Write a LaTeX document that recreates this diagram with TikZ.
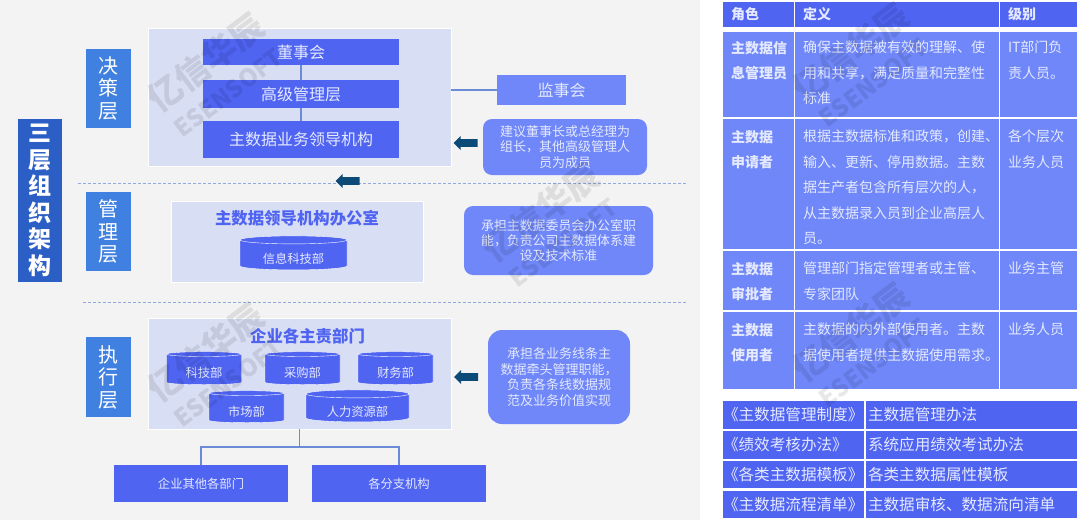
\documentclass[tikz,border=0pt]{standalone}
\usepackage{fontspec}
\setmainfont{Noto Sans CJK SC}
\usetikzlibrary{shapes}
\newcommand{\fs}[1]{\fontsize{#1}{#1}\selectfont}
\newcommand{\fsl}[2]{\fontsize{#1}{#2}\selectfont}
\definecolor{pagegray}{HTML}{F3F3F3}
\definecolor{panelblue}{HTML}{D8DEF3}
\definecolor{deepblue}{HTML}{5064F2}
\definecolor{midblue}{HTML}{6F87F8}
\definecolor{layerblue}{HTML}{4080E0}
\definecolor{titleblue}{HTML}{2C5FC6}
\definecolor{arrowblue}{HTML}{0C4A78}
\definecolor{lineblue}{HTML}{6A8CD6}
\definecolor{softwhite}{HTML}{E4E9FF}
\begin{document}
\begin{tikzpicture}[x=1pt,y=-1pt]
\tikzstyle{every node}=[inner sep=0pt,outer sep=0pt]
\tikzstyle{layerbox}=[rectangle,fill=layerblue,text=white,minimum width=45pt,minimum height=79pt,align=center,font=\fsl{20}{22.5}]
\tikzstyle{panel}=[rectangle,fill=panelblue,draw=white,line width=0.8pt]
\tikzstyle{bluebox}=[rectangle,fill=deepblue,text=softwhite,minimum width=196pt,font=\fs{16}]
\tikzstyle{lowbox}=[rectangle,fill=deepblue,text=softwhite,minimum width=174pt,minimum height=37pt,font=\fs{12.3}]
\tikzstyle{note}=[rectangle,rounded corners=9pt,fill=midblue,text=softwhite,align=center,font=\fsl{13}{15.6}]
\tikzstyle{db}=[cylinder,shape border rotate=90,aspect=0.13,draw=white,line width=0.4pt,fill=deepblue,text=softwhite,text height=17pt,text depth=1pt,font=\fs{12.3}]
\tikzstyle{leftarrow}=[single arrow,shape border rotate=180,fill=arrowblue,inner sep=3.5pt,minimum height=24pt,minimum width=14pt,single arrow head extend=3pt,single arrow head indent=0pt]
\tikzstyle{heading}=[text=deepblue,font=\bfseries\fs{16.4}]
\tikzstyle{conn}=[draw=lineblue,line width=1.2pt]
\tikzstyle{sepline}=[draw=lineblue!75,line width=0.7pt,densely dashed]
\tikzstyle{hcell}=[rectangle,anchor=north west,fill=deepblue]
\tikzstyle{rcell}=[rectangle,anchor=north west,fill=midblue]
\tikzstyle{htext}=[anchor=west,text=softwhite,font=\bfseries\fs{14}]
\tikzstyle{rolet}=[anchor=north west,align=left,text=softwhite,font=\bfseries\fsl{14}{25.5}]
\tikzstyle{bodyt}=[anchor=north west,align=left,text=softwhite,font=\fsl{14}{25.5}]
\tikzstyle{doct}=[anchor=west,text=softwhite,font=\fs{15.6}]
\tikzstyle{wmark}=[rotate=37,align=center,text=black,opacity=0.09,font=\bfseries\fsl{34}{34}]

\useasboundingbox (0,0) rectangle (1080,520);
\fill[white] (0,0) rectangle (1080,520);
\fill[pagegray] (0,0) rectangle (700,520);

\node[rectangle,fill=titleblue,text=white,minimum width=44pt,minimum height=163pt,align=center,font=\bfseries\fsl{23}{26.5}] (title) at (40,200.5) {三\\层\\组\\织\\架\\构};

% decision layer
\node[layerbox] (juece) at (108.5,88.5) {决\\策\\层};
\node[panel,minimum width=303pt,minimum height=138pt] (topPanel) at (299.5,97) {};
\node[bluebox,minimum height=26pt] (board) at (301,52) {董事会};
\node[bluebox,minimum height=28pt] (senior) at (301,94) {高级管理层};
\node[bluebox,minimum height=37pt] (lead) at (301,139.5) {主数据业务领导机构};
\draw[conn] (board) -- (senior);
\draw[conn] (senior) -- (lead);
\node[rectangle,fill=midblue,text=softwhite,minimum width=129pt,minimum height=30pt,font=\fs{16}] (supervise) at (561.5,90) {监事会};
\draw[conn] (topPanel.east |- supervise.west) -- (supervise.west);
\node[note,minimum width=164pt,minimum height=56pt] (noteA) at (565,147) {建议董事长或总经理为\\组长，其他高级管理人\\员为成员};
\node[leftarrow] (arrowA) at (467.5,143) {};

% first separator
\coordinate (sepAl) at (78,183);
\coordinate (sepAr) at (688,183);
\draw[sepline] (sepAl) -- (sepAr);
\node[leftarrow] (arrowB) at (349.5,181) {};

% management layer
\node[layerbox] (guanli) at (108.5,231.5) {管\\理\\层};
\node[panel,minimum width=252pt,minimum height=81pt] (midPanel) at (297,241.5) {};
\node[heading] (officeTitle) at (297,218) {主数据领导机构办公室};
\node[db,minimum height=34pt,minimum width=107pt] (infoDb) at (293.5,255) {信息科技部};
\node[note,minimum width=189pt,minimum height=69pt,font=\fsl{12.9}{15.4}] (noteB) at (558.5,240.5) {承担主数据委员会办公室职\\能，负责公司主数据体系建\\设及技术标准};

% second separator
\coordinate (sepBl) at (83,302);
\coordinate (sepBr) at (688,302);
\draw[sepline] (sepBl) -- (sepBr);

% execution layer
\node[layerbox,minimum height=80pt] (zhixing) at (108.5,377) {执\\行\\层};
\node[panel,minimum width=303pt,minimum height=111pt] (execPanel) at (299.5,373.5) {};
\node[heading] (deptTitle) at (307.5,336) {企业各主责部门};
\node[db,minimum height=33pt,minimum width=75pt] (techDb) at (204,369.5) {科技部};
\node[db,minimum height=33pt,minimum width=75pt] (buyDb) at (302.5,369.5) {采购部};
\node[db,minimum height=33pt,minimum width=75pt] (finDb) at (395.5,369.5) {财务部};
\node[db,minimum height=32pt,minimum width=75pt] (mktDb) at (246.5,408) {市场部};
\node[db,minimum height=32pt,minimum width=103pt] (hrDb) at (357.5,408) {人力资源部};
\node[note,rounded corners=14pt,minimum width=142pt,minimum height=94pt] (noteC) at (559,377) {承担各业务线条主\\数据牵头管理职能，\\负责各条线数据规\\范及业务价值实现};
\node[leftarrow] (arrowC) at (468,377) {};

\node[lowbox] (otherDept) at (201,483.5) {企业其他各部门};
\node[lowbox] (branch) at (399,483.5) {各分支机构};
\coordinate (bus) at (299.5,447);
\draw[conn] (execPanel.south) -- (bus);
\draw[conn] (otherDept.north) -- (otherDept.north |- bus) -- (branch.north |- bus) -- (branch.north);

% role table
\node[hcell,minimum width=71pt,minimum height=25pt] (h1) at (723,2) {};
\node[hcell,minimum width=204pt,minimum height=25pt] (h2) at (795,2) {};
\node[hcell,minimum width=77pt,minimum height=25pt] (h3) at (1000,2) {};
\node[htext] (h1t) at (731,14) {角色};
\node[htext] (h2t) at (803,14) {定义};
\node[htext] (h3t) at (1008,14) {级别};

\node[rcell,minimum width=71pt,minimum height=85pt] (a1) at (723,32) {};
\node[rcell,minimum width=204pt,minimum height=85pt] (b1) at (795,32) {};
\node[rcell,minimum width=77pt,minimum height=85pt] (c1) at (1000,32) {};
\node[rolet] (a1t) at (731,41) {主数据信\\息管理员};
\node[bodyt] (b1t) at (803,41) {确保主数据被有效的理解、使\\用和共享，满足质量和完整性\\标准};
\node[bodyt] (c1t) at (1008,41) {IT部门负\\责人员。};

\node[rcell,minimum width=71pt,minimum height=130pt] (a2) at (723,119) {};
\node[rcell,minimum width=204pt,minimum height=130pt] (b2) at (795,119) {};
\node[rcell,minimum width=77pt,minimum height=130pt] (c2) at (1000,119) {};
\node[rolet] (a2t) at (731,130) {主数据\\申请者};
\node[bodyt] (b2t) at (803,130) {根据主数据标准和政策，创建、\\输入、更新、停用数据。主数\\据生产者包含所有层次的人，\\从主数据录入员到企业高层人\\员。};
\node[bodyt] (c2t) at (1008,130) {各个层次\\业务人员};

\node[rcell,minimum width=71pt,minimum height=59pt] (a3) at (723,251) {};
\node[rcell,minimum width=204pt,minimum height=59pt] (b3) at (795,251) {};
\node[rcell,minimum width=77pt,minimum height=59pt] (c3) at (1000,251) {};
\node[rolet] (a3t) at (731,262) {主数据\\审批者};
\node[bodyt] (b3t) at (803,262) {管理部门指定管理者或主管、\\专家团队};
\node[bodyt] (c3t) at (1008,262) {业务主管};

\node[rcell,minimum width=71pt,minimum height=77pt] (a4) at (723,312) {};
\node[rcell,minimum width=204pt,minimum height=77pt] (b4) at (795,312) {};
\node[rcell,minimum width=77pt,minimum height=77pt] (c4) at (1000,312) {};
\node[rolet] (a4t) at (731,323) {主数据\\使用者};
\node[bodyt] (b4t) at (803,323) {主数据的内外部使用者。主数\\据使用者提供主数据使用需求。};
\node[bodyt] (c4t) at (1008,323) {业务人员};

% document table
\node[hcell,minimum width=141pt,minimum height=28pt] (d1) at (723,401) {};
\node[hcell,minimum width=211pt,minimum height=28pt] (e1) at (866,401) {};
\node[doct] (d1t) at (723,415) {《主数据管理制度》};
\node[doct] (e1t) at (868,415) {主数据管理办法};
\node[hcell,minimum width=141pt,minimum height=28pt] (d2) at (723,431) {};
\node[hcell,minimum width=211pt,minimum height=28pt] (e2) at (866,431) {};
\node[doct] (d2t) at (723,445) {《绩效考核办法》};
\node[doct] (e2t) at (868,445) {系统应用绩效考试办法};
\node[hcell,minimum width=141pt,minimum height=27pt] (d3) at (723,461) {};
\node[hcell,minimum width=211pt,minimum height=27pt] (e3) at (866,461) {};
\node[doct] (d3t) at (723,475) {《各类主数据模板》};
\node[doct] (e3t) at (868,475) {各类主数据属性模板};
\node[hcell,minimum width=141pt,minimum height=27pt] (d4) at (723,491) {};
\node[hcell,minimum width=211pt,minimum height=27pt] (e4) at (866,491) {};
\node[doct] (d4t) at (723,505) {《主数据流程清单》};
\node[doct] (e4t) at (868,505) {主数据审核、数据流向清单};

% watermarks
\node[wmark] (wmA) at (215,75) {亿信华辰\\{\fs{24}ESENSOFT}};
\node[wmark] (wmB) at (550,225) {亿信华辰\\{\fs{24}ESENSOFT}};
\node[wmark] (wmC) at (215,365) {亿信华辰\\{\fs{24}ESENSOFT}};
\node[wmark] (wmD) at (860,65) {亿信华辰\\{\fs{24}ESENSOFT}};
\node[wmark] (wmE) at (860,345) {亿信华辰\\{\fs{24}ESENSOFT}};
\end{tikzpicture}
\end{document}
